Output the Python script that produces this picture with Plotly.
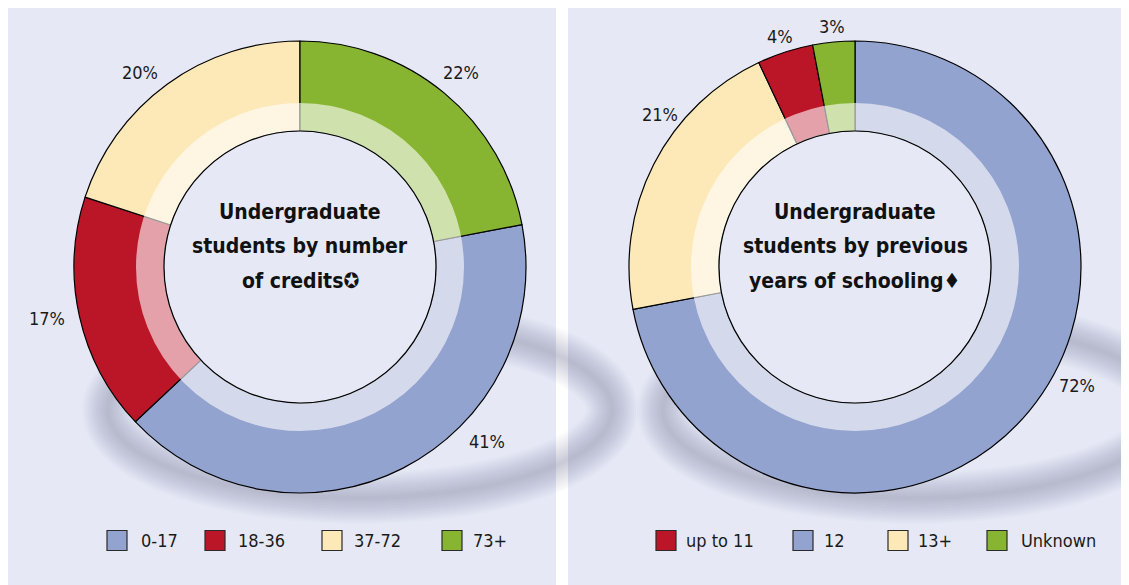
import math
import plotly.graph_objects as go

# The page adds an 8px body margin, so the figure is sized/shifted to fill the window.
OFF = 8
FW, FH = 1129 - OFF, 585 - OFF

# ---------------- data ----------------
credit_labels = ["0-17", "18-36", "37-72", "73+"]
credit_values = [41, 17, 20, 22]
credit_top_slice = "73+"            # slice that starts at 12 o'clock

schooling_labels = ["up to 11", "12", "13+", "Unknown"]
schooling_values = [4, 72, 21, 3]
schooling_ring_order = ["12", "13+", "up to 11", "Unknown"]   # clockwise from 12 o'clock

credit_title = ["Undergraduate", "students by number", "of credits✪"]
schooling_title = ["Undergraduate", "students by previous", "years of schooling♦"]

# ---------------- style / layout ----------------
COLORS = {"0-17": "#93a3cf", "18-36": "#bb1628", "37-72": "#fde9b8", "73+": "#88b531",
          "up to 11": "#bb1628", "12": "#93a3cf", "13+": "#fde9b8", "Unknown": "#88b531"}
FONT = "'Liberation Sans Narrow', 'DejaVu Sans Condensed', 'Roboto Condensed', 'Arial Narrow', sans-serif"
PANEL = "#e6e9f5"
STRIP = "#f1f2f7"
R_OUT, R_BAND, R_HOLE = 226, 164, 136
CY = 267
LEFT_CX, RIGHT_CX = 300, 855
LABEL_R = 252
LABEL_NUDGE = {"0-17": -20, "12": -11.5, "13+": 11, "18-36": 1, "37-72": -3.5}
LABEL_R_ADJ = {"0-17": 4, "18-36": 6, "up to 11": -10, "Unknown": -10, "13+": -4}
TITLE_LINE_Y = [-55, -21, 14]

LEGEND_LEFT = {"swatch_x": [107, 205, 322, 442], "text_x": [139, 236, 352, 471]}
LEGEND_RIGHT = {"swatch_x": [656, 793, 888, 987], "text_x": [684, 822, 916, 1019]}
LEGEND_Y, SWATCH = 540.5, 20


def px(x):
    return (x - OFF) / FW


def py(y):
    return 1 - (y - OFF) / FH


def domain(cx, cy, r):
    return dict(x=[px(cx - r), px(cx + r)], y=[py(cy + r), py(cy - r)])


fig = go.Figure()
shapes = []
annotations = []

# backgrounds
for x0, x1, col in [(3, 556, PANEL), (556, 568, "#ffffff"), (568, 1140, PANEL)]:
    shapes.append(dict(type="rect", xref="paper", yref="paper", x0=px(x0), x1=px(x1), y0=py(600), y1=py(4.5),
                       fillcolor=col, line_width=0, layer="below"))

# soft floor shadows behind the rings (offset to the lower right)
for cx in (LEFT_CX, RIGHT_CX):
    scx, scy, rx, ry = cx + 60, 410, 252, 88
    for w_ in range(52, 2, -4):
        shapes.append(dict(type="circle", xref="paper", yref="paper",
                           x0=px(scx - rx), x1=px(scx + rx), y0=py(scy + ry), y1=py(scy - ry),
                           line=dict(color="rgba(45,50,80,0.019)", width=w_), fillcolor="rgba(0,0,0,0)",
                           layer="below"))


def add_ring(labels, values, cx, top_label, title_lines):
    total = sum(values)
    idx = labels.index(top_label)
    before = sum(values[:idx])
    rotation = (360 - 360 * before / total) % 360
    fig.add_trace(go.Pie(
        labels=labels, values=values, sort=False, direction="clockwise", rotation=rotation,
        hole=R_HOLE / R_OUT, domain=domain(cx, CY, R_OUT),
        marker=dict(colors=[COLORS[l] for l in labels], line=dict(color="#000000", width=1.2)),
        textinfo="none", showlegend=False, hoverinfo="label+percent",
    ))
    # percentage labels around the ring
    acc = rotation
    for lab, v in zip(labels, values):
        span = 360 * v / total
        mid = acc + span / 2 + LABEL_NUDGE.get(lab, 0)
        acc += span
        rr = LABEL_R + LABEL_R_ADJ.get(lab, 0)
        t = math.radians(mid)
        x = cx + rr * math.sin(t)
        y = CY - rr * math.cos(t)
        annotations.append(dict(x=px(x), y=py(y), xref="paper", yref="paper", showarrow=False,
                                text=f"{round(100 * v / total)}%", xanchor="center", yanchor="middle",
                                font=dict(family=FONT, size=18, color="#1a1a1a")))
    # pale inner band, opaque hole and inner outline
    rm = (R_BAND + R_HOLE) / 2
    shapes.append(dict(type="circle", xref="paper", yref="paper",
                       x0=px(cx - rm), x1=px(cx + rm), y0=py(CY + rm), y1=py(CY - rm),
                       line=dict(color="rgba(255,255,255,0.6)", width=R_BAND - R_HOLE),
                       fillcolor="rgba(0,0,0,0)", layer="above"))
    shapes.append(dict(type="circle", xref="paper", yref="paper",
                       x0=px(cx - R_HOLE), x1=px(cx + R_HOLE), y0=py(CY + R_HOLE), y1=py(CY - R_HOLE),
                       line=dict(color="#000000", width=1.2), fillcolor=PANEL, layer="above"))
    for line, dy in zip(title_lines, TITLE_LINE_Y):
        annotations.append(dict(x=px(cx), y=py(CY + dy), xref="paper", yref="paper", showarrow=False,
                                text=f"<b>{line}</b>", xanchor="center", yanchor="middle",
                                font=dict(family=FONT, size=21, color="#111111")))


add_ring(credit_labels, credit_values, LEFT_CX, credit_top_slice, credit_title)

ring_vals = [schooling_values[schooling_labels.index(l)] for l in schooling_ring_order]
add_ring(schooling_ring_order, ring_vals, RIGHT_CX, schooling_ring_order[0], schooling_title)


def add_legend(labels, spec):
    for lab, sx, tx in zip(labels, spec["swatch_x"], spec["text_x"]):
        shapes.append(dict(type="rect", xref="paper", yref="paper",
                           x0=px(sx), x1=px(sx + SWATCH), y0=py(LEGEND_Y + SWATCH / 2), y1=py(LEGEND_Y - SWATCH / 2),
                           fillcolor=COLORS[lab], line=dict(color="#2a2a2a", width=1.2), layer="above"))
        annotations.append(dict(x=px(tx), y=py(LEGEND_Y), xref="paper", yref="paper", showarrow=False,
                                text=lab, xanchor="left", yanchor="middle",
                                font=dict(family=FONT, size=18, color="#1a1a1a")))


add_legend(credit_labels, LEGEND_LEFT)
add_legend(schooling_labels, LEGEND_RIGHT)

fig.update_layout(
    width=FW, height=FH, margin=dict(l=0, r=0, t=0, b=0),
    paper_bgcolor=STRIP, plot_bgcolor=STRIP,
    shapes=shapes, annotations=annotations, showlegend=False,
)

fig.write_html("out.html")
